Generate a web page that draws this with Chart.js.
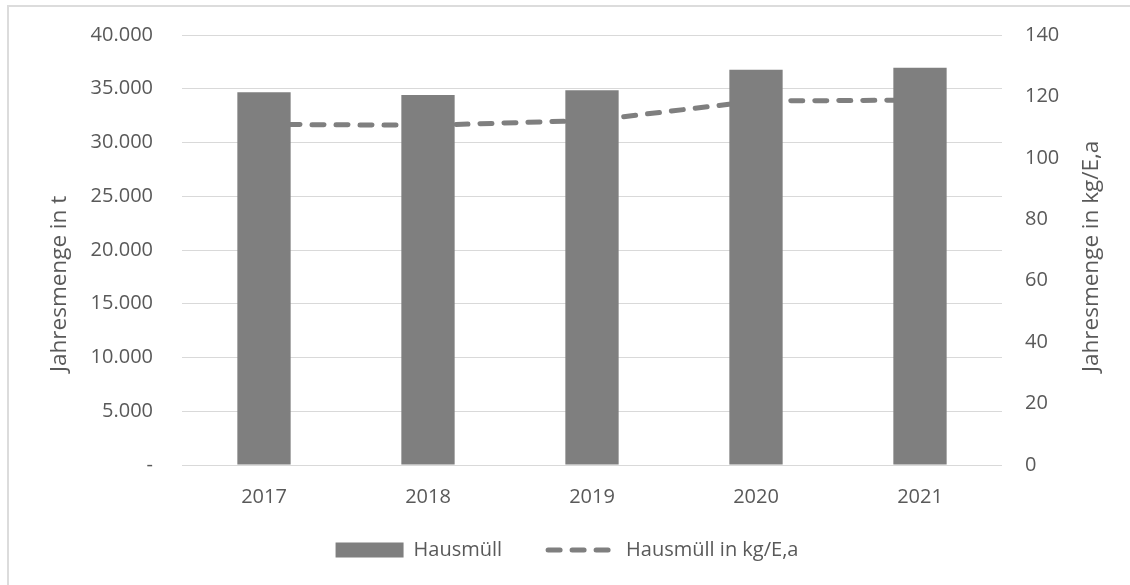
<!DOCTYPE html>
<html>
<head>
<meta charset="utf-8">
<script src="https://cdn.jsdelivr.net/npm/chart.js@4"></script>
<style>
  html, body { margin: 0; padding: 0; background: #fff; }
  #frame { position: absolute; left: 7px; top: 5px; width: 1200px; height: 700px;
           border-left: 2px solid #dcdcdc; border-top: 2px solid #dcdcdc; }
  #wrap { position: absolute; left: 0; top: 0; width: 1130px; height: 585px; }
</style>
</head>
<body>
<div id="frame"></div>
<div id="wrap"><canvas id="chart"></canvas></div>
<script>
// Daten
const years = ['2017', '2018', '2019', '2020', '2021'];
const hausmuellTonnen = [34670, 34420, 34860, 36770, 36960];
const hausmuellProKopf = [110.9, 110.6, 112.2, 118.5, 118.8];
const leftTickLabels = ['-', '5.000', '10.000', '15.000', '20.000', '25.000', '30.000', '35.000', '40.000'];
const rightTickLabels = ['0', '20', '40', '60', '80', '100', '120', '140'];
const leftTitle = 'Jahresmenge in t';
const rightTitle = 'Jahresmenge in kg/E,a';

const grey = '#7f7f7f';
const textColor = '#595959';
const titleSize = 22.5;
Chart.defaults.font.family = "'Open Sans', sans-serif";
Chart.defaults.font.size = 20;
Chart.defaults.color = textColor;

// Achsentitel: beide von unten nach oben, unten bündig (wie im Original)
const axisTitlesPlugin = {
    id: 'axisTitles',
    afterDraw(chart) {
        const ctx = chart.ctx;
        const draw = (text, x) => {
            ctx.save();
            ctx.translate(x, 372);
            ctx.rotate(-Math.PI / 2);
            ctx.fillStyle = textColor;
            ctx.font = titleSize + "px 'Open Sans', sans-serif";
            ctx.textAlign = 'left';
            ctx.textBaseline = 'middle';
            ctx.fillText(text, 0, 0);
            ctx.restore();
        };
        draw(leftTitle, 60);
        draw(rightTitle, 1092);
    }
};

// Legende etwas verschieben (Platz bleibt im Layout reserviert)
const legendShiftPlugin = {
    id: 'legendShift',
    afterLayout(chart) {
        const lg = chart.legend;
        if (lg) {
            lg.top -= 15;
            lg.bottom -= 15;
            lg.left -= 8;
            lg.right -= 8;
        }
    }
};

const noLabelPadding = (scale) => {
    scale.paddingTop = 0;
    scale.paddingBottom = 0;
};

new Chart(document.getElementById('chart'), {
    data: {
        labels: years,
        datasets: [{
            type: 'bar',
            label: 'Hausmüll',
            data: hausmuellTonnen,
            backgroundColor: grey,
            borderWidth: 0,
            barPercentage: 0.325,
            categoryPercentage: 1,
            pointStyle: 'rect',
            yAxisID: 'y',
            order: 1
        }, {
            type: 'line',
            label: 'Hausmüll in kg/E,a',
            data: hausmuellProKopf,
            borderColor: grey,
            backgroundColor: grey,
            borderWidth: 5,
            borderDash: [12, 12],
            borderCapStyle: 'round',
            pointRadius: 0,
            pointStyle: 'line',
            tension: 0,
            yAxisID: 'y1',
            order: 2
        }]
    },
    plugins: [axisTitlesPlugin, legendShiftPlugin],
    options: {
        responsive: true,
        maintainAspectRatio: false,
        animation: false,
        layout: { padding: { top: 35, left: 46, right: 26, bottom: 0 } },
        plugins: {
            tooltip: { enabled: false },
            legend: {
                position: 'bottom',
                labels: {
                    usePointStyle: true,
                    pointStyleWidth: 68,
                    boxHeight: 15,
                    padding: 46,
                    color: textColor,
                    font: { size: 20 },
                    generateLabels(chart) {
                        const items = Chart.defaults.plugins.legend.labels.generateLabels(chart);
                        items.forEach(item => {
                            const ds = chart.data.datasets[item.datasetIndex];
                            if (ds.type === 'line') {
                                item.lineDash = ds.borderDash;
                                item.lineCap = 'round';
                                item.lineWidth = ds.borderWidth;
                                item.strokeStyle = ds.borderColor;
                            }
                        });
                        return items;
                    }
                }
            }
        },
        scales: {
            x: {
                offset: true,
                grid: { display: false, drawTicks: false },
                border: { display: false },
                ticks: { padding: 20, color: textColor },
                afterFit: (scale) => { scale.height = 44; }
            },
            y: {
                position: 'left',
                min: 0,
                max: 40000,
                ticks: {
                    stepSize: 5000,
                    padding: 29,
                    color: textColor,
                    callback: (v, i) => leftTickLabels[i]
                },
                grid: { color: '#d9d9d9', lineWidth: 1, drawTicks: false },
                border: { display: false },
                afterFit: (scale) => { scale.width = 136; noLabelPadding(scale); }
            },
            y1: {
                position: 'right',
                min: 0,
                max: 140,
                ticks: {
                    stepSize: 20,
                    padding: 23,
                    color: textColor,
                    callback: (v, i) => rightTickLabels[i]
                },
                grid: { display: false, drawTicks: false },
                border: { display: false },
                afterFit: (scale) => { scale.width = 102; noLabelPadding(scale); }
            }
        }
    }
});
</script>
</body>
</html>
